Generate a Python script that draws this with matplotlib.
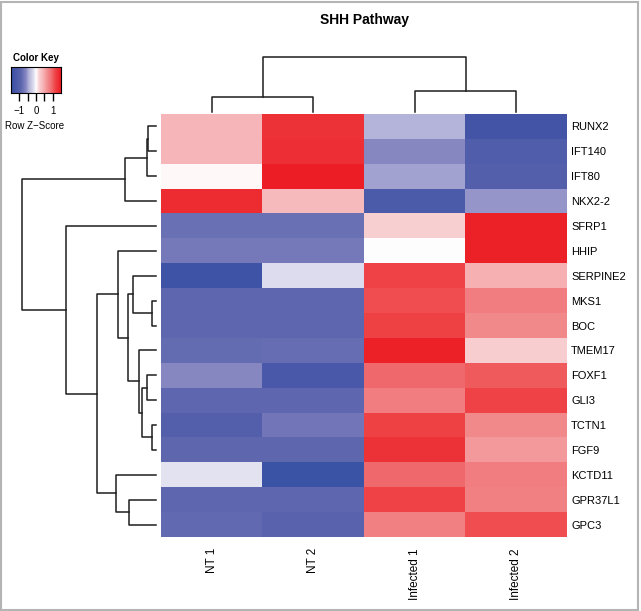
import numpy as np
import matplotlib
matplotlib.use("Agg")
import matplotlib.pyplot as plt
from matplotlib.colors import LinearSegmentedColormap
from matplotlib.patches import Rectangle

plt.rcParams['font.family'] = ['Liberation Sans', 'DejaVu Sans']

# ---- data (row z-scores) ----
genes = ["RUNX2", "IFT140", "IFT80", "NKX2-2", "SFRP1", "HHIP", "SERPINE2",
         "MKS1", "BOC", "TMEM17", "FOXF1", "GLI3", "TCTN1", "FGF9",
         "KCTD11", "GPR37L1", "GPC3"]
samples = ["NT 1", "NT 2", "Infected 1", "Infected 2"]

nt1 = [0.40, 0.42, 0.03, 1.35, -0.80, -0.72, -1.40, -0.90, -0.90, -0.85,
       -0.60, -0.90, -1.05, -0.88, -0.12, -0.90, -0.86]
nt2 = [1.30, 1.33, 1.48, 0.38, -0.80, -0.72, -0.15, -0.90, -0.90, -0.83,
       -1.20, -0.90, -0.75, -0.88, -1.45, -0.90, -0.95]
inf1 = [-0.42, -0.60, -0.50, -1.15, 0.20, 0.00, 1.15, 1.10, 1.17, 1.45,
        0.95, 0.80, 1.17, 1.30, 0.95, 1.15, 0.78]
inf2 = [-1.30, -1.10, -1.05, -0.55, 1.45, 1.45, 0.45, 0.80, 0.72, 0.22,
        1.02, 1.15, 0.72, 0.60, 0.80, 0.78, 1.10]

# row dendrogram, linkage style: leaves 0..16 in plotted order, new nodes 17..
row_link_a = [0, 17, 18, 7, 6, 10, 12, 22, 9, 21, 5, 15, 14, 27, 4, 19]
row_link_b = [1, 2, 3, 8, 20, 11, 13, 23, 24, 25, 26, 16, 28, 29, 30, 31]
row_link_h = [8, 9, 31, 4, 23, 9, 4, 14, 17, 28, 38, 27, 40, 59, 90, 134]

# column dendrogram
col_link_a = [0, 2, 4]
col_link_b = [1, 3, 5]
col_link_h = [15, 21, 55]

z = np.array([nt1, nt2, inf1, inf2]).T

VMIN, VMAX = -1.5, 1.5
cmap = LinearSegmentedColormap.from_list("bwr_key", [
    (0.000, "#3953a4"), (0.067, "#4455a8"), (0.200, "#5d66ae"),
    (0.300, "#8787c2"), (0.350, "#b0b0d8"), (0.450, "#dcdcee"),
    (0.500, "#ffffff"), (0.567, "#f9d0d2"), (0.633, "#f7b8bb"),
    (0.733, "#f28c8e"), (0.817, "#f06a6d"), (0.883, "#ef4447"),
    (1.000, "#ec1c24")])

W, H = 641, 611


def fig_rect(x0, y0, x1, y1):
    # pixel box (top-left origin) -> figure fraction
    return [x0 / W, 1 - y1 / H, (x1 - x0) / W, (y1 - y0) / H]


def dendro_segments(link_a, link_b, link_h, n_leaves):
    pos = {i: i + 0.5 for i in range(n_leaves)}
    hgt = {i: 0.0 for i in range(n_leaves)}
    segs = []
    for k, (a, b, h) in enumerate(zip(link_a, link_b, link_h)):
        node = n_leaves + k
        segs.append(([hgt[a], h, h, hgt[b]], [pos[a], pos[a], pos[b], pos[b]]))
        pos[node] = (pos[a] + pos[b]) / 2
        hgt[node] = h
    return segs


fig = plt.figure(figsize=(W / 100, H / 100), dpi=100)

# heatmap
ax = fig.add_axes(fig_rect(161, 114, 567, 537))
ax.imshow(z, cmap=cmap, vmin=VMIN, vmax=VMAX, aspect="auto",
          interpolation="nearest", extent=(0, len(samples), len(genes), 0))
ax.set_xticks(np.arange(len(samples)) + 0.5)
ax.set_xticklabels(samples, rotation=90, fontsize=8.5)
ax.set_yticks(np.arange(len(genes)) + 0.5)
ax.set_yticklabels(genes, fontsize=8)
ax.yaxis.tick_right()
ax.tick_params(length=0)
ax.tick_params(axis="x", pad=8)
ax.tick_params(axis="y", pad=3)
for s in ax.spines.values():
    s.set_visible(False)

# row dendrogram
axr = fig.add_axes(fig_rect(22, 114, 156, 537))
for hs, ps in dendro_segments(row_link_a, row_link_b, row_link_h, len(genes)):
    axr.plot(hs, ps, color="#1e1e1e", lw=1.1, clip_on=False)
axr.set_xlim(max(row_link_h), 0)
axr.set_ylim(len(genes), 0)
axr.axis("off")

# column dendrogram
axc = fig.add_axes(fig_rect(161, 57, 567, 112))
for hs, ps in dendro_segments(col_link_a, col_link_b, col_link_h, len(samples)):
    axc.plot(ps, hs, color="#1e1e1e", lw=1.1, clip_on=False)
axc.set_xlim(0, len(samples))
axc.set_ylim(0, max(col_link_h))
axc.axis("off")

# color key
axk = fig.add_axes(fig_rect(11, 67, 61, 93))
grad = np.linspace(VMIN, VMAX, 256)[None, :]
axk.imshow(grad, cmap=cmap, vmin=VMIN, vmax=VMAX, aspect="auto",
           extent=(VMIN, VMAX, 0, 1))
axk.set_yticks([])
axk.set_xticks([-1, -0.5, 0, 0.5, 1])
axk.set_xticklabels(["\u22121", "", "0", "", "1"], fontsize=7)
axk.tick_params(axis="x", length=6, width=1, pad=3)
for s in axk.spines.values():
    s.set_linewidth(0.8)
axk.set_title("Color Key", fontsize=7, fontweight="bold", pad=4)
fig.text(35 / W, 1 - 126 / H, "Row Z\u2212Score", fontsize=7,
         ha="center", va="center")

fig.text(364 / W, 1 - 20 / H, "SHH Pathway", fontsize=10, fontweight="bold",
         ha="center", va="center")

# frame around the figure
fig.patches.append(Rectangle((0.002, 0.002), 0.994, 0.995, transform=fig.transFigure,
                             fill=False, edgecolor="#b4b4b4", lw=1.5))

fig.savefig("out.png", dpi=100)
